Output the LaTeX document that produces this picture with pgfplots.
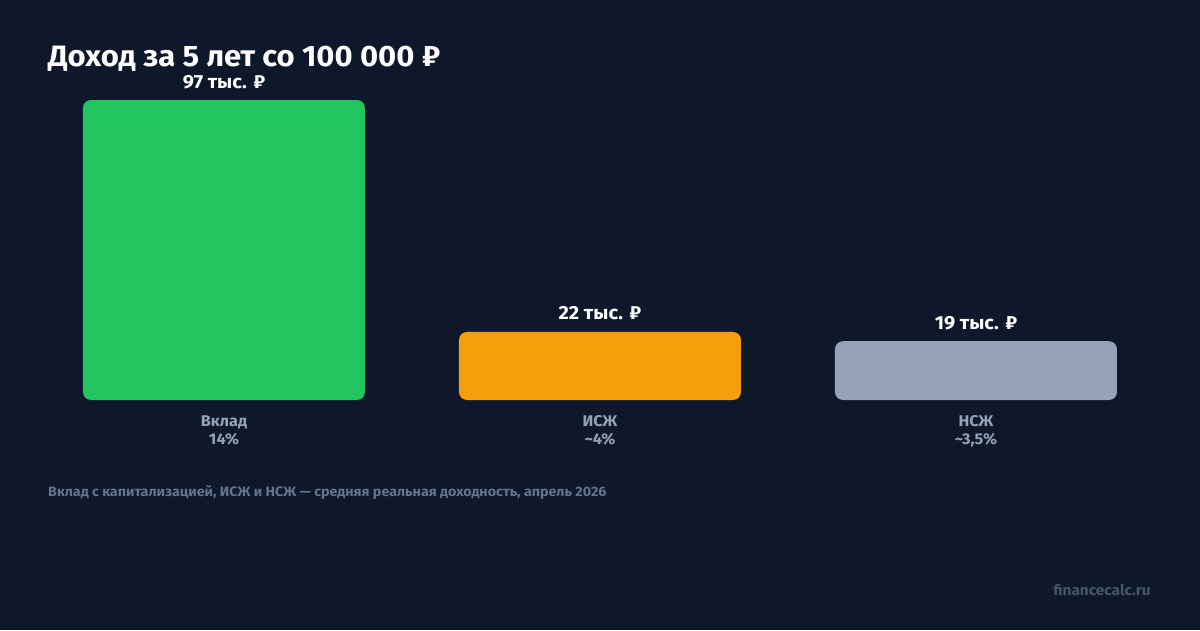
\documentclass[border=0pt]{standalone}
\usepackage{fontspec}
\setmainfont{Fira Sans}[FakeStretch=1.05]
\usepackage{pgfplots}
\pgfplotsset{compat=1.18}

\definecolor{bg}{HTML}{0F172A}
\definecolor{vklad}{HTML}{22C55E}
\definecolor{iszh}{HTML}{F59E0B}
\definecolor{nszh}{HTML}{94A3B8}
\definecolor{lab}{HTML}{94A3B8}
\definecolor{note}{HTML}{64748B}
\definecolor{mark}{HTML}{475569}

\begin{document}
\begin{tikzpicture}[x=1pt,y=1pt]
\fill[bg] (0,0) rectangle (1200,630);

% title, footnote, watermark
\node[anchor=base west, inner sep=0pt, text=white, font=\fontsize{29.5}{34}\selectfont\bfseries]
  at (48,563) {Доход за 5 лет со 100 000 ₽};
\node[anchor=base west, inner sep=0pt, text=note, font=\fontsize{13.6}{16}\selectfont\bfseries]
  at (48,134) {Вклад с капитализацией, ИСЖ и НСЖ — средняя реальная доходность, апрель 2026};
\node[anchor=base east, inner sep=0pt, text=mark, font=\fontsize{14.7}{17}\selectfont\bfseries]
  at (1151,35) {financecalc.ru};

\begin{axis}[
    at={(36pt,230pt)}, anchor=south west,
    scale only axis, width=1128pt, height=371.13pt,
    xmin=-0.5, xmax=2.5, ymin=4, ymax=124,
    % lift the bars so their rounded bottom corners fall below the clip
    y filter/.expression={y+4},
    ybar, bar width=282pt, bar shift=0pt,
    axis line style={draw=none}, tick style={draw=none},
    ytick=\empty, xtick={0,1,2},
    xticklabels={{Вклад\\14\%},{ИСЖ\\\textasciitilde4\%},{НСЖ\\\textasciitilde3,5\%}},
    xticklabel style={align=center, inner sep=0pt, yshift=-11pt, text=lab,
      font=\fontsize{15.5}{18}\selectfont\bfseries},
    nodes near coords, point meta=explicit symbolic,
    nodes near coords style={anchor=base, inner sep=0pt, yshift=12pt, text=white,
      font=\fontsize{19}{22}\selectfont\bfseries},
]
\addplot[fill=vklad, draw=none, rounded corners=8pt] coordinates {(0,97) [97 тыс. ₽]};
\addplot[fill=iszh, draw=none, rounded corners=8pt] coordinates {(1,22) [22 тыс. ₽]};
\addplot[fill=nszh, draw=none, rounded corners=8pt] coordinates {(2,19) [19 тыс. ₽]};
\end{axis}
\end{tikzpicture}
\end{document}
